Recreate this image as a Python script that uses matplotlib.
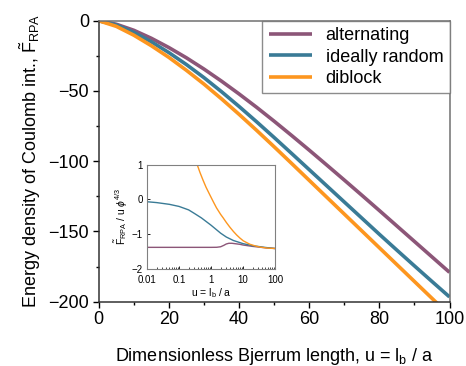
import matplotlib
matplotlib.use("Agg")
import matplotlib.pyplot as plt
from matplotlib.ticker import MultipleLocator, LogLocator, NullFormatter

plt.rcParams['font.family'] = ['Liberation Sans', 'DejaVu Sans']
plt.rcParams['mathtext.fontset'] = 'custom'
plt.rcParams['mathtext.rm'] = 'Liberation Sans'
plt.rcParams['mathtext.it'] = 'Liberation Sans:italic'

# --- main panel data ---
u_main = [0, 5, 10, 15, 20, 25, 30, 35, 40, 45, 50, 55, 60, 65, 70, 75, 80, 85, 90, 95, 100]
f_alternating = [0, -2.5, -6.8, -12.5, -19.1, -26.4, -34.4, -43, -52.1, -61.6, -71.5, -81.7,
                 -92.1, -102.7, -113.4, -124.2, -135.1, -146.1, -157.1, -168.1, -179.1]
f_random = [0, -3, -8.3, -15, -22.7, -31.2, -40.5, -50.5, -61, -71.9, -83.1, -94.5,
            -106, -117.5, -129, -140.5, -152, -163.3, -174.5, -185.6, -196.6]
f_diblock = [0, -4, -10.3, -17.8, -26.1, -35.3, -45.1, -55.6, -66.6, -78, -89.7, -101.6,
             -113.6, -125.6, -137.6, -149.6, -161.6, -173.6, -185.6, -197.6, -209.6]

# --- inset data ---
u_ins_alt = [0.01, 0.1, 1, 1.5, 2, 2.5, 3, 3.6, 4.5, 6, 8, 10, 20, 50, 100]
r_alt = [-1.377, -1.377, -1.377, -1.375, -1.36, -1.32, -1.28, -1.26, -1.26, -1.275, -1.29,
         -1.31, -1.35, -1.39, -1.41]
u_ins_ran = [0.01, 0.02, 0.05, 0.1, 0.2, 0.3, 0.5, 1, 2, 3, 5, 10, 20, 50, 100]
r_ran = [-0.065, -0.09, -0.14, -0.2, -0.3, -0.4, -0.53, -0.74, -0.97, -1.08, -1.18,
         -1.27, -1.33, -1.38, -1.41]
u_ins_dib = [0.3, 0.37, 0.45, 0.56, 0.7, 0.92, 1.2, 1.48, 2, 2.4, 3, 3.9, 5, 6.3, 8,
             10.2, 16.5, 25, 34, 60, 100]
r_dib = [1.35, 1.0, 0.78, 0.56, 0.35, 0.13, -0.08, -0.24, -0.43, -0.53, -0.66, -0.8,
         -0.92, -1.02, -1.11, -1.19, -1.29, -1.34, -1.37, -1.4, -1.41]

labels = ["alternating", "ideally random", "diblock"]
colors = ["#8c5678", "#3a7b96", "#fd961f"]

fig = plt.figure(figsize=(4.66, 3.66), dpi=100)
ax = fig.add_axes([0.2118, 0.1757, 0.7528, 0.7677])

for ys, lab, c in zip([f_alternating, f_random, f_diblock], labels, colors):
    ax.plot(u_main, ys, color=c, lw=2.6, label=lab, solid_capstyle='butt')

ax.set_xlim(0, 100)
ax.set_ylim(-200, 0)
ax.xaxis.set_major_locator(MultipleLocator(20))
ax.xaxis.set_minor_locator(MultipleLocator(10))
ax.yaxis.set_major_locator(MultipleLocator(50))
ax.yaxis.set_minor_locator(MultipleLocator(25))
ax.tick_params(which='major', direction='out', length=4, width=1, labelsize=13, pad=3)
ax.tick_params(which='minor', direction='out', length=2.5, width=1)
for s in ax.spines.values():
    s.set_color('#707070')
    s.set_linewidth(1.1)
ax.spines['left'].set_color('#333333')
ax.spines['bottom'].set_color('#333333')

ax.set_xlabel(r"Dimensionless Bjerrum length, u = l$_\mathrm{b}$ / a", fontsize=13, labelpad=13)
ax.set_ylabel(r"Energy density of Coulomb int., $\tilde{\mathrm{F}}_{\mathrm{RPA}}$", fontsize=13, labelpad=4)

leg = ax.legend(loc='upper right', fontsize=13, borderaxespad=0, fancybox=False,
                handlelength=2.4, handletextpad=0.75, labelspacing=0.25, borderpad=0.35)
leg.get_frame().set_edgecolor('#707070')
leg.get_frame().set_linewidth(1.0)

# --- inset ---
ins = fig.add_axes([0.3155, 0.265, 0.2747, 0.285])
ins.plot(u_ins_alt, r_alt, color=colors[0], lw=1.0)
ins.plot(u_ins_ran, r_ran, color=colors[1], lw=1.0)
ins.plot(u_ins_dib, r_dib, color=colors[2], lw=1.0)
ins.set_xscale('log')
ins.set_xlim(0.01, 100)
ins.set_ylim(-2, 1)
ins.set_xticks([0.01, 0.1, 1, 10, 100])
ins.set_xticklabels(["0.01", "0.1", "1", "10", "100"])
ins.xaxis.set_minor_locator(LogLocator(base=10, subs=range(2, 10)))
ins.xaxis.set_minor_formatter(NullFormatter())
ins.set_yticks([-2, -1, 0, 1])
ins.tick_params(which='major', direction='in', length=2.5, width=0.6, labelsize=7)
ins.tick_params(axis='x', which='major', pad=4)
ins.tick_params(axis='y', which='major', pad=3)
ins.tick_params(which='minor', direction='in', length=1.5, width=0.5)
for s in ins.spines.values():
    s.set_color('#808080')
    s.set_linewidth(0.8)
ins.set_xlabel(r"u = l$_\mathrm{b}$ / a", fontsize=7.5, labelpad=1)
ins.set_ylabel(r"$\tilde{\mathrm{F}}_{\mathrm{RPA}}$ / u $\phi^{4/3}$", fontsize=7.5, labelpad=1)

fig.savefig("out.png", dpi=100)
